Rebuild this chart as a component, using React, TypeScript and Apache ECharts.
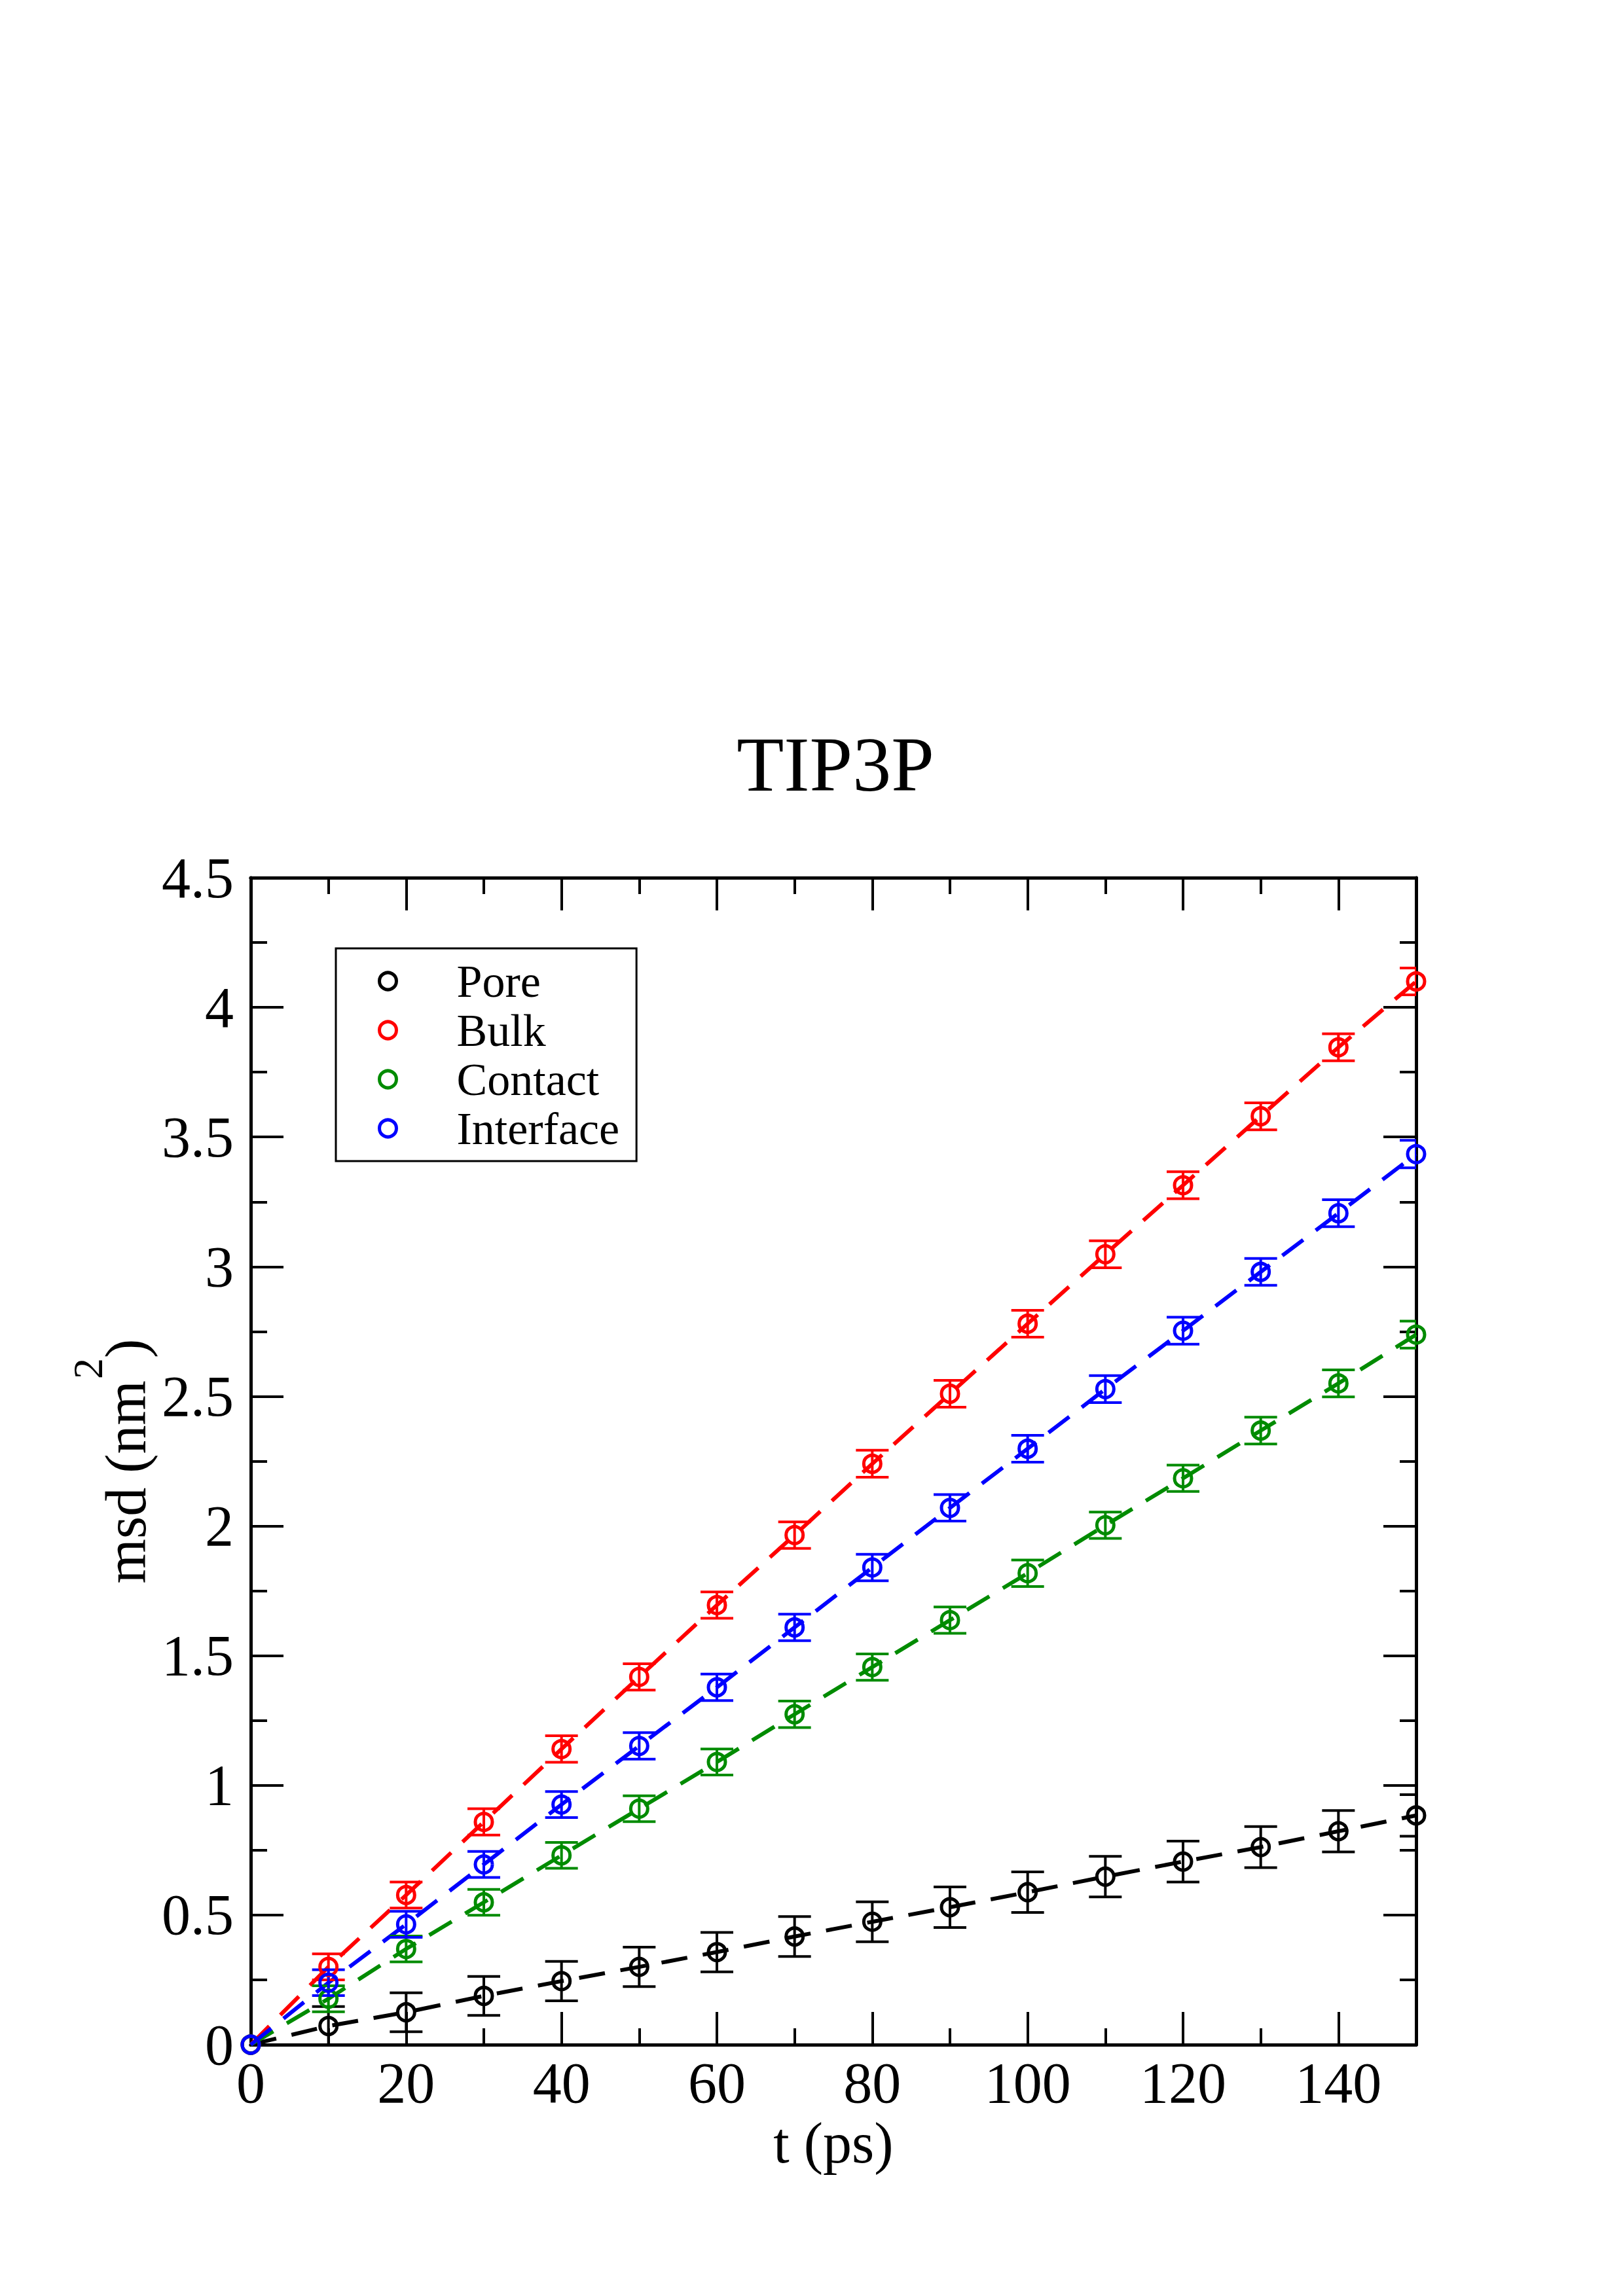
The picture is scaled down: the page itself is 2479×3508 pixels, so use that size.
import React, { useEffect, useRef } from "react";
import * as echarts from "echarts";

const T = [0, 10, 20, 30, 40, 50, 60, 70, 80, 90, 100, 110, 120, 130, 140, 150];
const PORE = [0, 0.072, 0.125, 0.188, 0.245, 0.3, 0.357, 0.417, 0.474, 0.53, 0.588, 0.648, 0.706, 0.762, 0.823, 0.884];
const BULK = [0, 0.3, 0.577, 0.859, 1.14, 1.418, 1.695, 1.965, 2.24, 2.51, 2.78, 3.048, 3.314, 3.58, 3.846, 4.1];
const CONTACT = [0, 0.177, 0.369, 0.549, 0.73, 0.91, 1.09, 1.274, 1.456, 1.637, 1.818, 2.003, 2.184, 2.368, 2.55, 2.738];
const INTERFACE = [0, 0.239, 0.464, 0.695, 0.926, 1.152, 1.378, 1.609, 1.84, 2.07, 2.298, 2.528, 2.753, 2.98, 3.206, 3.434];

const PORE_ERR = [0, 0.075, 0.075, 0.075, 0.076, 0.076, 0.076, 0.077, 0.077, 0.078, 0.078, 0.078, 0.079, 0.079, 0.08, 0.08];
const BULK_ERR = [0, 0.05, 0.05, 0.051, 0.051, 0.051, 0.051, 0.051, 0.052, 0.052, 0.052, 0.052, 0.052, 0.052, 0.052, 0.052];
const CONTACT_ERR = [0, 0.05, 0.05, 0.05, 0.05, 0.05, 0.05, 0.051, 0.051, 0.051, 0.051, 0.051, 0.051, 0.052, 0.052, 0.052];
const INTERFACE_ERR = [0, 0.05, 0.05, 0.05, 0.05, 0.051, 0.051, 0.051, 0.051, 0.051, 0.052, 0.052, 0.052, 0.052, 0.052, 0.053];

const NAMES = ["Pore", "Bulk", "Contact", "Interface"];
const COLORS = ["#000000", "#ff0000", "#008b00", "#0000ff"];
const VALUES = [PORE, BULK, CONTACT, INTERFACE];
const ERRORS = [PORE_ERR, BULK_ERR, CONTACT_ERR, INTERFACE_ERR];

const X_MIN = 0, X_MAX = 150, X_MAJOR = 20, X_MINOR = 10;
const Y_MIN = 0, Y_MAX = 4.5, Y_MAJOR = 0.5;

const FONT = "'Liberation Serif', 'Times New Roman', 'DejaVu Serif', serif";

export default function App() {
  const ref = useRef<HTMLDivElement>(null);
  useEffect(() => {
    if (!ref.current) return;
    const chart = echarts.init(ref.current, undefined, { renderer: "svg" });

    const axisLine = { show: true, onZero: false, lineStyle: { color: "#000", width: 5 } };
    const baseX = (position: string, interval: number, tickLen: number, labels: boolean, name?: string) => ({
      type: "value",
      position,
      min: X_MIN,
      max: X_MAX,
      interval,
      axisLine,
      axisTick: { show: true, inside: true, length: tickLen, lineStyle: { color: "#000", width: 4 } },
      minorTick: { show: false },
      splitLine: { show: false },
      axisLabel: labels
        ? { show: true, margin: 14, color: "#000", fontFamily: FONT, fontSize: 88, showMaxLabel: false, lineHeight: 88 }
        : { show: false },
      name: name || "",
      nameLocation: "middle",
      nameGap: 100,
      nameTextStyle: { color: "#000", fontFamily: FONT, fontSize: 88, lineHeight: 88 },
    });
    const baseY = (position: string, labels: boolean, name?: string) => ({
      type: "value",
      position,
      min: Y_MIN,
      max: Y_MAX,
      interval: Y_MAJOR,
      axisLine,
      axisTick: { show: true, inside: true, length: 50, lineStyle: { color: "#000", width: 4 } },
      minorTick: { show: true, splitNumber: 2, length: 25, lineStyle: { color: "#000", width: 4 } },
      splitLine: { show: false },
      minorSplitLine: { show: false },
      axisLabel: labels
        ? { show: true, margin: 26, color: "#000", fontFamily: FONT, fontSize: 88, lineHeight: 88 }
        : { show: false },
      name: name || "",
      nameLocation: "middle",
      nameRotate: 90,
      nameGap: 118,
      nameTextStyle: {
        color: "#000",
        fontFamily: FONT,
        rich: {
          a: { fontFamily: FONT, fontSize: 88, lineHeight: 88, color: "#000" },
          b: { fontFamily: FONT, fontSize: 64, lineHeight: 64, color: "#000", verticalAlign: "bottom", padding: [0, 0, 70, 2] },
        },
      },
    });

    const series: any[] = [];
    VALUES.forEach((vals, i) => {
      const pts = T.map((t, j) => [t, vals[j]]);
      series.push({
        type: "line",
        name: NAMES[i] + " line",
        data: pts,
        showSymbol: false,
        symbol: "none",
        lineStyle: { color: COLORS[i], width: 6, type: [40, 24] },
        z: 2,
        silent: true,
      });
      series.push({
        type: "custom",
        name: NAMES[i] + " err",
        data: T.map((t, j) => [t, vals[j], ERRORS[i][j]]),
        z: 3,
        silent: true,
        clip: true,
        renderItem: (params: any, api: any) => {
          const x = api.value(0), y = api.value(1), e = api.value(2);
          if (!e) return null;
          const top = api.coord([x, y + e]);
          const bot = api.coord([x, y - e]);
          const hw = 25;
          const st = { stroke: COLORS[i], lineWidth: 4 };
          return {
            type: "group",
            children: [
              { type: "line", shape: { x1: top[0], y1: top[1], x2: bot[0], y2: bot[1] }, style: st },
              { type: "line", shape: { x1: top[0] - hw, y1: top[1], x2: top[0] + hw, y2: top[1] }, style: st },
              { type: "line", shape: { x1: bot[0] - hw, y1: bot[1], x2: bot[0] + hw, y2: bot[1] }, style: st },
            ],
          };
        },
      });
      series.push({
        type: "scatter",
        name: NAMES[i],
        data: pts,
        symbol: "circle",
        symbolSize: 26,
        clip: false,
        itemStyle: { color: "rgba(255,255,255,0)", borderColor: COLORS[i], borderWidth: 5, opacity: 1 },
        z: 4,
        silent: true,
      });
    });

    chart.setOption({
      animation: false,
      backgroundColor: "#ffffff",
      grid: { left: 383, top: 1341, width: 1780, height: 1783, containLabel: false, outerBoundsMode: "none" },
      graphic: [
        {
          type: "text",
          x: 1276,
          y: 1168,
          style: { text: "TIP3P", fontFamily: FONT, fontSize: 118, fill: "#000", textAlign: "center", textVerticalAlign: "middle" },
        },
      ],
      legend: {
        show: true,
        orient: "vertical",
        left: 513,
        top: 1449,
        data: NAMES.map((n, i) => ({
          name: n,
          icon: "circle",
          itemStyle: { color: "rgba(255,255,255,0)", borderColor: COLORS[i], borderWidth: 5, opacity: 1 },
        })),
        itemWidth: 26,
        itemHeight: 26,
        itemGap: 5,
        padding: [15, 26, 15, 64],
        borderColor: "#000",
        borderWidth: 3,
        backgroundColor: "#fff",
        selectedMode: false,
        formatter: (name: string) => `{n|${name}}`,
        textStyle: {
          color: "#000",
          fontFamily: FONT,
          fontSize: 70,
          rich: { n: { fontFamily: FONT, fontSize: 70, lineHeight: 70, color: "#000", padding: [0, 0, 0, 87] } },
        },
      },
      xAxis: [
        baseX("bottom", X_MAJOR, 50, true, "t (ps)"),
        baseX("bottom", X_MINOR, 25, false),
        baseX("top", X_MAJOR, 50, false),
        baseX("top", X_MINOR, 25, false),
      ],
      yAxis: [baseY("left", true, "{a|msd (nm}{b|2}{a|)}"), baseY("right", false)],
      series,
    });
    return () => chart.dispose();
  }, []);
  return (
    <div
      ref={ref}
      style={{ position: "absolute", left: 0, top: 0, width: 2479, height: 3508, background: "#fff" }}
    />
  );
}
